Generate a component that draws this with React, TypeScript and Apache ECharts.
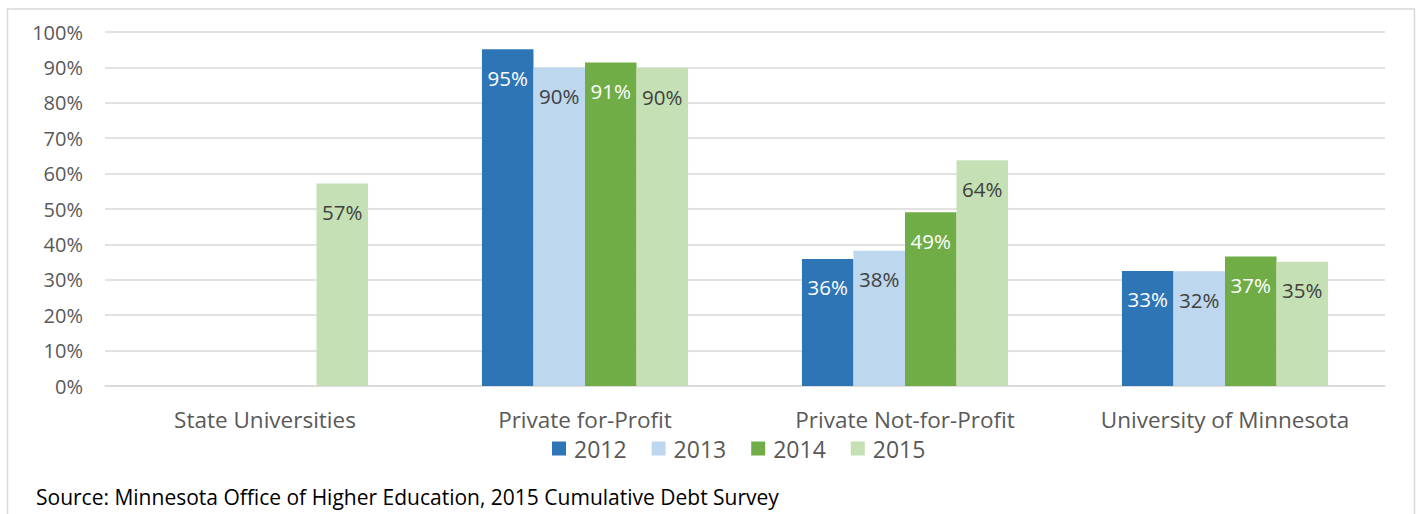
import React, { useEffect, useRef } from "react";
import * as echarts from "echarts";

const categories = ["State Universities", "Private for-Profit", "Private Not-for-Profit", "University of Minnesota"];
const years = ["2012", "2013", "2014", "2015"];
const v2012 = [null, 95.1, 35.9, 32.5];
const v2013 = [null, 90.0, 38.2, 32.4];
const v2014 = [null, 91.4, 49.1, 36.6];
const v2015 = [57.2, 89.8, 63.8, 35.1];
const yTicks = [0, 10, 20, 30, 40, 50, 60, 70, 80, 90, 100];
const colors = ["#2E75B6", "#BDD7EE", "#70AD47", "#C5E0B4"];
const labelColors = ["#ffffff", "#404040", "#ffffff", "#404040"];
const sourceText = "Source: Minnesota Office of Higher Education, 2015 Cumulative Debt Survey";

const FONT = "Open Sans";

export default function App() {
  const ref = useRef<HTMLDivElement>(null);
  useEffect(() => {
    const chart = echarts.init(ref.current!, null, { renderer: "svg" });
    const all = [v2012, v2013, v2014, v2015];
    chart.setOption({
      animation: false,
      textStyle: { fontFamily: FONT },
      grid: { left: 105, right: 36, top: 32, bottom: 128 },
      xAxis: {
        type: "category",
        data: categories,
        axisTick: { show: false },
        axisLine: { lineStyle: { color: "#d9d9d9", width: 1.5 } },
        axisLabel: { color: "#595959", fontSize: 22.5, lineHeight: 21, fontFamily: FONT, margin: 23, interval: 0 },
      },
      yAxis: {
        type: "value",
        min: yTicks[0],
        max: yTicks[yTicks.length - 1],
        interval: 10,
        axisLine: { show: false },
        axisTick: { show: false },
        splitLine: { lineStyle: { color: "#d9d9d9", width: 1.5 } },
        axisLabel: { color: "#595959", fontSize: 20, fontFamily: FONT, margin: 22, formatter: (v: number) => v + "%" },
      },
      legend: {
        left: 552,
        top: 437,
        padding: 0,
        icon: "rect",
        itemWidth: 14,
        itemHeight: 14,
        itemGap: 25,
        textStyle: { color: "#595959", fontSize: 23, lineHeight: 21, fontFamily: FONT, padding: [0, 0, 0, 3] },
        data: years,
      },
      series: years.map((y, i) => ({
        name: y,
        type: "bar",
        data: all[i],
        barGap: "0%",
        barCategoryGap: "35.6%",
        itemStyle: { color: colors[i] },
        label: {
          show: true,
          position: "insideTop",
          distance: 18,
          color: labelColors[i],
          fontSize: 20.5,
          fontFamily: FONT,
          formatter: (p: any) => Math.round(p.value) + "%",
        },
      })),
      graphic: [
        {
          type: "rect",
          shape: { x: 7.5, y: 9, width: 1407, height: 530 },
          style: { fill: "none", stroke: "#d9d9d9", lineWidth: 1.5 },
          silent: true,
        },
        {
          type: "text",
          x: 36,
          y: 497,
          style: { text: sourceText, fill: "#000000", fontSize: 21, fontFamily: FONT, textVerticalAlign: "middle" },
        },
      ],
    });
    return () => chart.dispose();
  }, []);
  return <div ref={ref} style={{ position: "absolute", left: 0, top: 0, width: 1421, height: 514 }} />;
}
